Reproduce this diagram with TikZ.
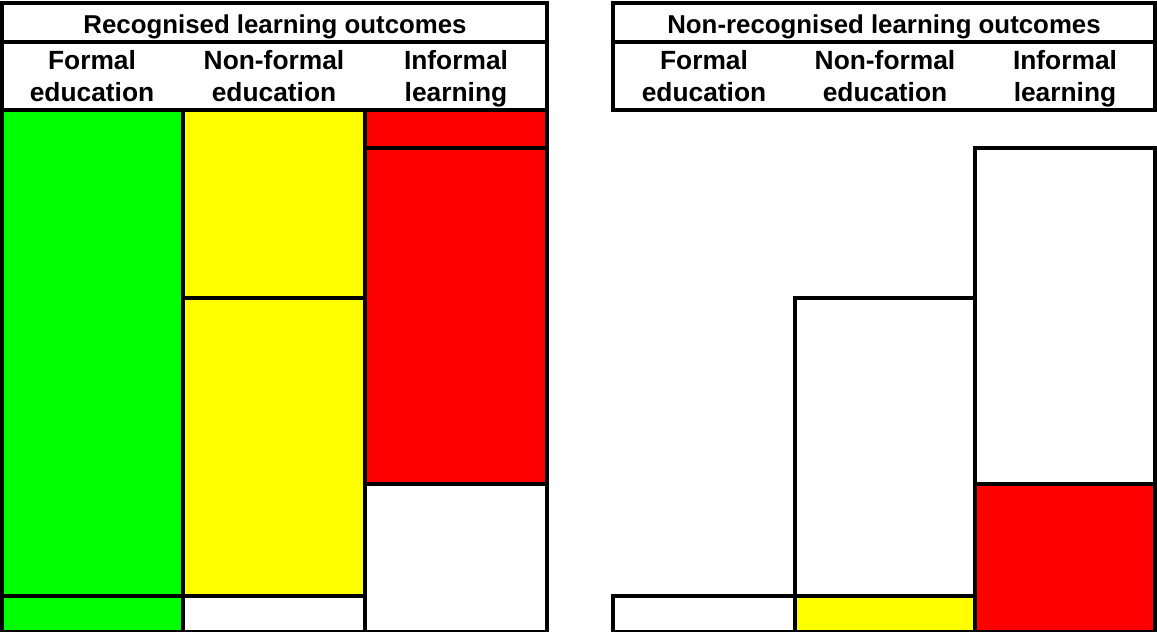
\documentclass[tikz,border=0pt]{standalone}
\usepackage{fontspec}
\setmainfont{Liberation Sans}
\usetikzlibrary{positioning}
\definecolor{fgreen}{RGB}{0,255,0}
\definecolor{fyellow}{RGB}{255,255,0}
\definecolor{fred}{RGB}{255,0,0}
\begin{document}
\begin{tikzpicture}[x=0.02cm,y=-0.02cm,
    cell/.style={draw=black,line width=1.8pt},
    title/.style={font=\bfseries\fontsize{14.7}{17}\selectfont,inner sep=0pt,anchor=base},
    head/.style={font=\bfseries\fontsize{15}{18.1}\selectfont,align=center,inner sep=0pt,
        anchor=base}]
    \useasboundingbox (0,0) rectangle (1157,632);
    % recognised side
    \draw[cell] (2,3) rectangle (547,42);
    \draw[cell] (2,42) rectangle (547,110);
    \node[title] (rtitle) at (275,33) {Recognised learning outcomes};
    \node[head] (rformal) at (92,101) {Formal\\education};
    \node[head] (rnonformal) at (274,101) {Non-formal\\education};
    \node[head] (rinformal) at (456,101) {Informal\\learning};
    \draw[cell, fill=fgreen] (2,110) rectangle (183,596);
    \draw[cell, fill=fgreen] (2,596) rectangle (183,632);
    \draw[cell, fill=fyellow] (183,110) rectangle (365,298);
    \draw[cell, fill=fyellow] (183,298) rectangle (365,596);
    \draw[cell] (183,596) rectangle (365,632);
    \draw[cell, fill=fred] (365,110) rectangle (547,148);
    \draw[cell, fill=fred] (365,148) rectangle (547,484);
    \draw[cell] (365,484) rectangle (547,632);
    % non-recognised side
    \draw[cell] (613,3) rectangle (1155,42);
    \draw[cell] (613,42) rectangle (1155,110);
    \node[title] (ntitle) at (884,33) {Non-recognised learning outcomes};
    \node[head] (nformal) at (704,101) {Formal\\education};
    \node[head] (nnonformal) at (885,101) {Non-formal\\education};
    \node[head] (ninformal) at (1065,101) {Informal\\learning};
    \draw[cell] (613,596) rectangle (795,632);
    \draw[cell] (795,298) rectangle (975,596);
    \draw[cell, fill=fyellow] (795,596) rectangle (975,632);
    \draw[cell] (975,148) rectangle (1155,484);
    \draw[cell, fill=fred] (975,484) rectangle (1155,632);
\end{tikzpicture}
\end{document}
